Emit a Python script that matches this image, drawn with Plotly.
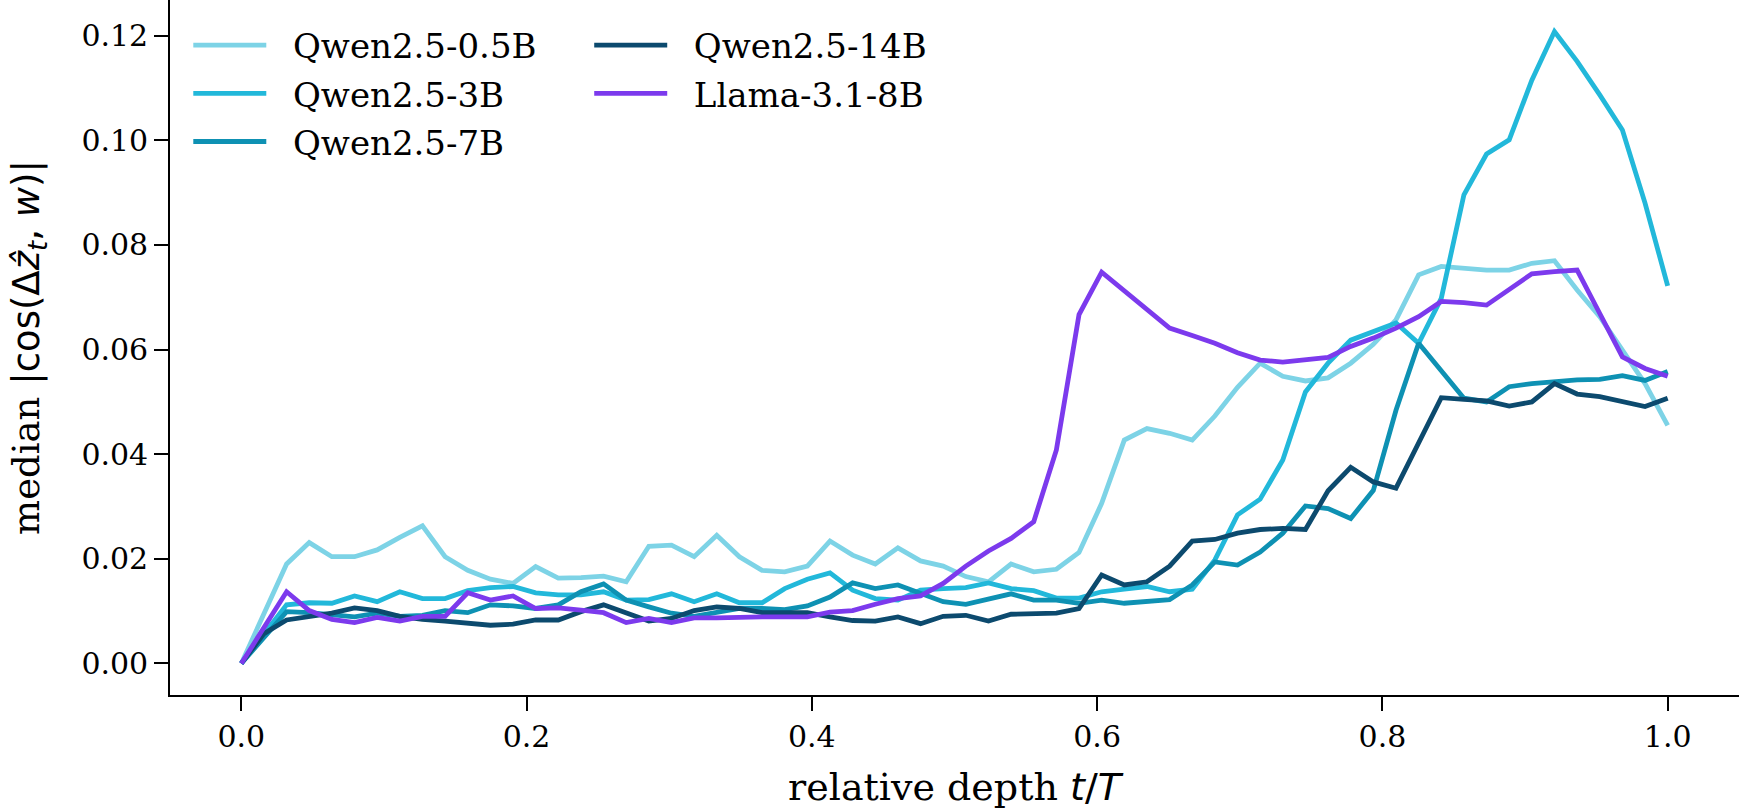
import numpy as np
import plotly.graph_objects as go

# common relative-depth grid (64 points from 0 to 1)
relative_depth = np.linspace(0.0, 1.0, 64)

qwen_05b = [
    0.0000, 0.0095, 0.0190, 0.0231, 0.0204, 0.0204, 0.0217, 0.0241, 0.0263, 0.0204,
    0.0178, 0.0161, 0.0153, 0.0185, 0.0163, 0.0164, 0.0167, 0.0156, 0.0224, 0.0226,
    0.0204, 0.0245, 0.0204, 0.0178, 0.0175, 0.0186, 0.0234, 0.0207, 0.0190, 0.0221,
    0.0196, 0.0186, 0.0166, 0.0156, 0.0190, 0.0175, 0.0180, 0.0212, 0.0306, 0.0427,
    0.0449, 0.0440, 0.0427, 0.0473, 0.0528, 0.0574, 0.0549, 0.0540, 0.0546, 0.0574,
    0.0610, 0.0657, 0.0743, 0.0759, 0.0756, 0.0752, 0.0752, 0.0765, 0.0770, 0.0714,
    0.0663, 0.0599, 0.0535, 0.0455,
]
qwen_3b = [
    0.0000, 0.0056, 0.0112, 0.0116, 0.0115, 0.0129, 0.0118, 0.0137, 0.0124, 0.0124,
    0.0139, 0.0145, 0.0147, 0.0135, 0.0131, 0.0131, 0.0137, 0.0121, 0.0122, 0.0133,
    0.0118, 0.0133, 0.0116, 0.0116, 0.0143, 0.0161, 0.0173, 0.0140, 0.0124, 0.0121,
    0.0140, 0.0143, 0.0145, 0.0154, 0.0143, 0.0139, 0.0125, 0.0125, 0.0137, 0.0142,
    0.0147, 0.0137, 0.0142, 0.0198, 0.0284, 0.0314, 0.0389, 0.0519, 0.0574, 0.0618,
    0.0634, 0.0651, 0.0612, 0.0698, 0.0896, 0.0974, 0.1001, 0.1115, 0.1208, 0.1151,
    0.1087, 0.1020, 0.0880, 0.0722,
]
qwen_7b = [
    0.0000, 0.0050, 0.0099, 0.0097, 0.0094, 0.0089, 0.0096, 0.0090, 0.0092, 0.0101,
    0.0097, 0.0112, 0.0110, 0.0105, 0.0112, 0.0137, 0.0152, 0.0121, 0.0108, 0.0096,
    0.0090, 0.0097, 0.0105, 0.0105, 0.0103, 0.0110, 0.0127, 0.0154, 0.0143, 0.0150,
    0.0133, 0.0118, 0.0113, 0.0124, 0.0133, 0.0121, 0.0121, 0.0115, 0.0121, 0.0115,
    0.0118, 0.0122, 0.0150, 0.0194, 0.0188, 0.0213, 0.0249, 0.0301, 0.0296, 0.0277,
    0.0331, 0.0484, 0.0612, 0.0561, 0.0507, 0.0500, 0.0529, 0.0535, 0.0539, 0.0542,
    0.0543, 0.0550, 0.0541, 0.0558,
]
qwen_14b = [
    0.0000, 0.0057, 0.0083, 0.0089, 0.0096, 0.0106, 0.0101, 0.0090, 0.0084, 0.0081,
    0.0076, 0.0073, 0.0075, 0.0083, 0.0083, 0.0099, 0.0112, 0.0097, 0.0081, 0.0086,
    0.0101, 0.0108, 0.0105, 0.0097, 0.0096, 0.0097, 0.0089, 0.0082, 0.0081, 0.0089,
    0.0076, 0.0090, 0.0092, 0.0081, 0.0094, 0.0094, 0.0096, 0.0105, 0.0169, 0.0150,
    0.0156, 0.0186, 0.0234, 0.0237, 0.0249, 0.0256, 0.0258, 0.0256, 0.0330, 0.0375,
    0.0347, 0.0335, 0.0421, 0.0508, 0.0505, 0.0502, 0.0492, 0.0500, 0.0535, 0.0515,
    0.0510, 0.0500, 0.0491, 0.0507,
]
llama_8b = [
    0.0000, 0.0068, 0.0137, 0.0101, 0.0084, 0.0078, 0.0088, 0.0081, 0.0090, 0.0090,
    0.0135, 0.0121, 0.0129, 0.0105, 0.0106, 0.0102, 0.0097, 0.0078, 0.0086, 0.0078,
    0.0087, 0.0087, 0.0089, 0.0089, 0.0089, 0.0089, 0.0098, 0.0101, 0.0113, 0.0124,
    0.0129, 0.0153, 0.0186, 0.0215, 0.0239, 0.0271, 0.0408, 0.0667, 0.0748, 0.0712,
    0.0675, 0.0641, 0.0627, 0.0612, 0.0594, 0.0580, 0.0576, 0.0580, 0.0585, 0.0606,
    0.0622, 0.0641, 0.0663, 0.0692, 0.0690, 0.0685, 0.0715, 0.0745, 0.0749, 0.0752,
    0.0669, 0.0586, 0.0564, 0.0549,
]

series_names = ["Qwen2.5-0.5B", "Qwen2.5-3B", "Qwen2.5-7B", "Qwen2.5-14B", "Llama-3.1-8B"]
series_values = [qwen_05b, qwen_3b, qwen_7b, qwen_14b, llama_8b]
series_colors = ["#7dd3e6", "#22b8da", "#0e91b3", "#0c4a6e", "#7c3aed"]
series_legend = ["legend", "legend", "legend", "legend2", "legend2"]

x_tick_vals = [0.0, 0.2, 0.4, 0.6, 0.8, 1.0]
x_tick_text = ["0.0", "0.2", "0.4", "0.6", "0.8", "1.0"]
y_tick_vals = [0.00, 0.02, 0.04, 0.06, 0.08, 0.10, 0.12]
y_tick_text = ["0.00", "0.02", "0.04", "0.06", "0.08", "0.10", "0.12"]

SERIF = "DejaVu Serif"
SANS = "DejaVu Sans"
NBSP = "\u00a0"

fig = go.Figure()
for name, vals, color, lg in zip(series_names, series_values, series_colors, series_legend):
    fig.add_trace(go.Scatter(
        x=relative_depth, y=vals, mode="lines", name=NBSP * 2 + name,
        line=dict(color=color, width=4.8),
        legend=lg, legendgroup=name,
    ))

W, H = 1741, 809
ml, mr, mt, mb = 169.7, 2.0, 0.0, 114.3
pw = W - ml - mr
ph = H - mt - mb

def px_to_paper_x(px):
    return (px - ml) / pw

def px_to_paper_y(py):
    return 1 - (py - mt) / ph

axis_common = dict(
    showline=True, linecolor="black", linewidth=1.6,
    ticks="outside", ticklen=14, tickwidth=1.6, tickcolor="black",
    showgrid=False, zeroline=False, mirror=False,
    tickfont=dict(family=SERIF, size=30, color="black"),
)

ymath = (f"<span style='font-family:{SANS}'>|cos(Δ<i>ẑ</i><sub><i>t</i></sub>, <i>w</i>)|</span>")
xmath = f"<span style='font-family:{SANS}'><i>t</i>/<i>T</i></span>"

legend_common = dict(
    xanchor="left", yanchor="top",
    bgcolor="rgba(0,0,0,0)", borderwidth=0, itemwidth=73,
    font=dict(family=SERIF, size=34, color="black"), tracegroupgap=1,
)

fig.update_layout(
    width=W, height=H,
    margin=dict(l=ml, r=mr, t=mt, b=mb, pad=0),
    paper_bgcolor="white", plot_bgcolor="white",
    font=dict(family=SERIF, size=30, color="black"),
    xaxis=dict(
        range=[-0.05, 1.05], tickvals=x_tick_vals, ticktext=x_tick_text,
        title=dict(text="relative depth " + xmath, font=dict(family=SERIF, size=38), standoff=22),
        **axis_common,
    ),
    yaxis=dict(
        range=[-0.00604, 0.12684], tickvals=y_tick_vals, ticktext=y_tick_text,
        title=dict(text="median " + ymath, font=dict(family=SERIF, size=37), standoff=30),
        **axis_common,
    ),
    legend=dict(x=px_to_paper_x(188), y=px_to_paper_y(16.5), **legend_common),
    legend2=dict(x=px_to_paper_x(589), y=px_to_paper_y(16.5), **legend_common),
)

fig.write_html("out.html")
